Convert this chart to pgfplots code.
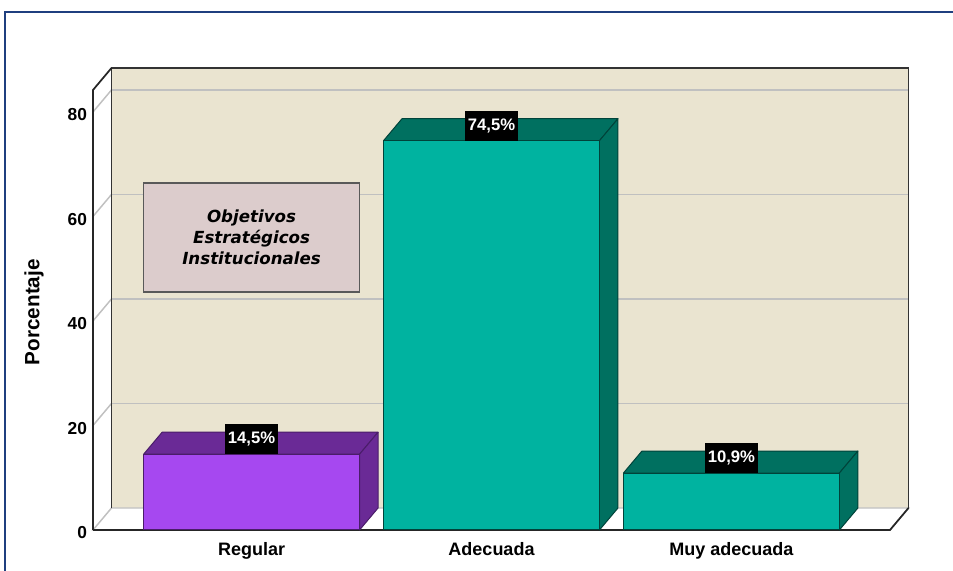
\documentclass[border=0pt]{standalone}
\usepackage{pgfplots}
\usepackage{pgfplotstable}
\pgfplotsset{compat=1.18}
\usepackage{fontspec}
\setmainfont{Liberation Sans}
\newfontfamily\notefont{DejaVu Sans Bold Oblique}
\definecolor{wall}{RGB}{234,228,208}
\definecolor{gridc}{RGB}{192,192,192}
\definecolor{purp}{RGB}{166,72,240}
\definecolor{purpd}{RGB}{106,42,150}
\definecolor{tealf}{RGB}{0,179,160}
\definecolor{teald}{RGB}{0,112,96}
\definecolor{notec}{RGB}{220,204,204}
\definecolor{frameblue}{RGB}{31,63,127}
\def\D{13.875pt}
\def\E{16.5pt}
% depth of the 3D effect in axis units (x: 13.875pt / 179.94pt, y: 16.5pt / 3.9192pt)
\def\dxa{0.07711}
\def\dya{4.21}
\pgfplotstableread{
x v
0 14.5
}\regular
\pgfplotstableread{
x v
1 74.5
2 10.9
}\adecuada
% top and side faces of one bar, from row #2 of table #1
\newcommand\depthbox[4]{%
  \pgfplotstablegetelem{#2}{x}\of#1\pgfmathsetmacro\bx{\pgfplotsretval}%
  \pgfplotstablegetelem{#2}{v}\of#1\pgfmathsetmacro\bv{\pgfplotsretval}%
  \pgfmathsetmacro\xl{\bx-0.45}\pgfmathsetmacro\xr{\bx+0.45}%
  \pgfmathsetmacro\xlb{\xl+\dxa}\pgfmathsetmacro\xrb{\xr+\dxa}%
  \pgfmathsetmacro\vb{\bv+\dya}%
  \addplot[fill=#3, draw=#4, line width=0.75pt, line join=round, mark=none]
    coordinates {(\xl,\bv) (\xlb,\vb) (\xrb,\vb) (\xr,\bv)} -- cycle;
  \addplot[fill=#3, draw=#4, line width=0.75pt, line join=round, mark=none]
    coordinates {(\xr,0) (\xrb,\dya) (\xrb,\vb) (\xr,\bv)} -- cycle;
}
\pgfplotsset{
  valbar/.style={ybar, bar width=0.9, bar shift=0pt, line width=0.75pt,
    nodes near coords={\pgfmathprintnumber[fixed,fixed zerofill,precision=1,use comma]{\pgfplotspointmeta}\%},
    every node near coord/.append style={anchor=south, fill=black, text=white,
      font=\bfseries\fontsize{12.5}{14}\selectfont, inner xsep=2.25pt, inner ysep=0pt,
      minimum height=22.5pt, outer sep=0pt, yshift=0pt},
  },
}
\begin{document}
\begin{tikzpicture}
\useasboundingbox (0,0) rectangle (714.75pt,428.25pt);
\fill[white] (0,0) rectangle (714.75pt,428.25pt);
\begin{axis}[
  at={(69.75pt,30.75pt)}, anchor=south west,
  width=597.75pt, height=330pt, scale only axis,
  xmin=-0.661, xmax=2.661, ymin=0, ymax=84.2,
  clip=false,
  axis line style={draw=none}, tick style={draw=none}, major tick length=0pt,
  xtick={0,1,2}, xticklabels={Regular,Adecuada,Muy adecuada},
  ytick={0,20,40,60,80},
  /pgf/number format/assume math mode=true,
  yticklabel style={font=\bfseries\fontsize{13}{15}\selectfont, xshift=-1pt, yshift=-2.25pt},
  xticklabel style={font=\bfseries\fontsize{13.5}{16}\selectfont, yshift=-5.5pt},
  ylabel={Porcentaje},
  ylabel style={font=\bfseries\fontsize{15.5}{18}\selectfont, at={(axis description cs:-0.074,0.495)}, anchor=center},
]
% back wall
\fill[wall, xshift=\D, yshift=\E] (axis cs:-0.661,0) rectangle (axis cs:2.661,84.2);
% grid lines on back wall and left wall
\draw[gridc, line width=1.1pt, xshift=\D, yshift=\E] (axis cs:-0.661,20) -- (axis cs:2.661,20);
\draw[gridc, line width=1.1pt, xshift=\D, yshift=\E] (axis cs:-0.661,40) -- (axis cs:2.661,40);
\draw[gridc, line width=1.1pt, xshift=\D, yshift=\E] (axis cs:-0.661,60) -- (axis cs:2.661,60);
\draw[gridc, line width=1.1pt, xshift=\D, yshift=\E] (axis cs:-0.661,80) -- (axis cs:2.661,80);
\draw[gridc, line width=1.1pt] (axis cs:-0.661,20) -- ++(\D,\E);
\draw[gridc, line width=1.1pt] (axis cs:-0.661,40) -- ++(\D,\E);
\draw[gridc, line width=1.1pt] (axis cs:-0.661,60) -- ++(\D,\E);
\draw[gridc, line width=1.1pt] (axis cs:-0.661,80) -- ++(\D,\E);
% floor
\filldraw[fill=white, draw=gridc, line width=1.1pt] (axis cs:-0.661,0) -- (axis cs:2.661,0) -- ++(\D,\E) -- ++(-597.75pt,0pt) -- cycle;
% wall outline
\draw[black!80, line width=1.3pt, xshift=\D, yshift=\E] (axis cs:-0.661,0) -- (axis cs:-0.661,84.2) -- (axis cs:2.661,84.2) -- (axis cs:2.661,0);
\draw[black!85, line width=1.3pt] (axis cs:-0.661,0) -- (axis cs:2.661,0) -- ++(\D,\E);
\draw[black!85, line width=1.3pt] (axis cs:-0.661,0) -- (axis cs:-0.661,84.2) -- ++(\D,\E);
% annotation
\node[draw=black!65, fill=notec, line width=1.2pt, minimum width=162pt, minimum height=81.75pt,
  align=center, font=\notefont\fontsize{12.5}{16}\selectfont] at (axis cs:0,56.0)
  {Objetivos\\Estratégicos\\Institucionales};
% bars: top and side faces
\depthbox{\regular}{0}{purpd}{purpd!70!black}
\depthbox{\adecuada}{0}{teald}{teald!60!black}
\depthbox{\adecuada}{1}{teald}{teald!60!black}
% bars: front faces with value labels
\addplot[valbar, fill=purp, draw=purpd!70!black] table[x=x,y=v]{\regular};
\addplot[valbar, fill=tealf, draw=teald!60!black] table[x=x,y=v]{\adecuada};
\end{axis}
\draw[frameblue, line width=1.2pt] (3.75pt,-5pt) -- (3.75pt,419.25pt) -- (720pt,419.25pt);
\end{tikzpicture}
\end{document}
